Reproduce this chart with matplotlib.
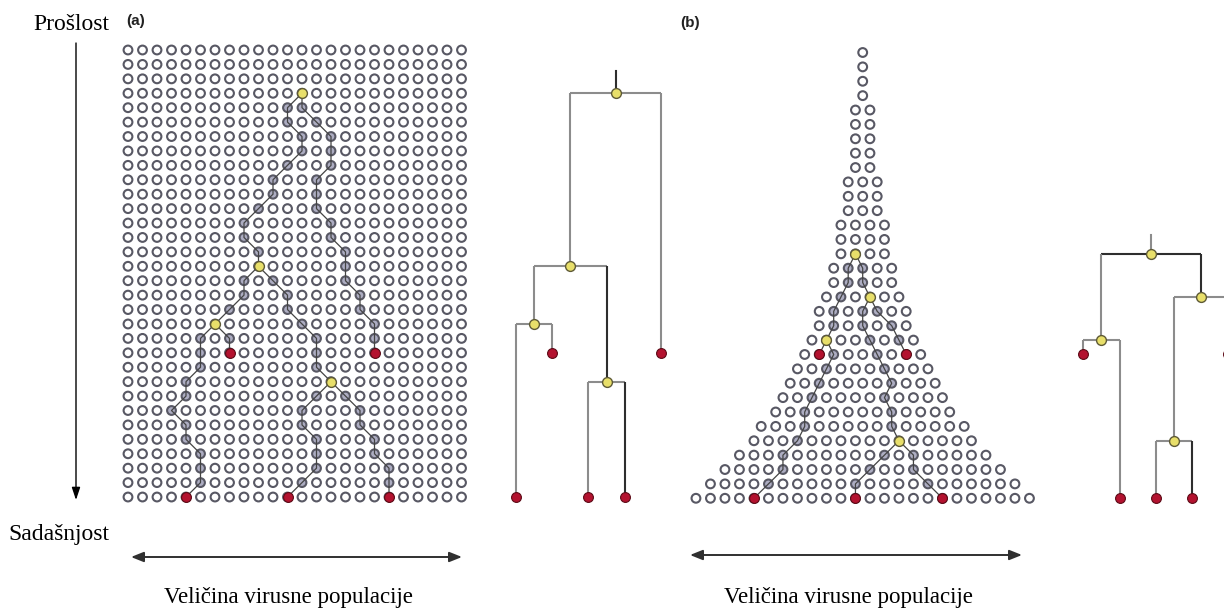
import numpy as np
import matplotlib.pyplot as plt

W, H = 1224, 610

# ---------------- panel (a): constant population, 24 columns x 32 generations
a_ncols = 24
a_nrows = 32

# coalescent events (yellow) and samples (red): row, column
a_node_names = ['Y1', 'Y2', 'Y3', 'Y4']
a_node_rows = [3, 15, 19, 23]
a_node_cols = [12, 9, 6, 14]
a_node_children = [('Y2', 'R2'), ('Y3', 'Y4'), ('R3', 'R1'), ('R4', 'R5')]
a_leaf_names = ['R1', 'R2', 'R3', 'R4', 'R5']
a_leaf_rows = [21, 21, 31, 31, 31]
a_leaf_cols = [7, 17, 4, 11, 18]
a_leaf_order = ['R3', 'R1', 'R4', 'R5', 'R2']

# lineages: (first row, column in each following generation)
a_y1_y2 = (3, [12, 11, 11, 12, 12, 11, 10, 10, 9, 8, 8, 9, 9])
a_y1_r2 = (3, [12, 12, 13, 14, 14, 14, 13, 13, 13, 14, 14, 15, 15, 15, 16, 16, 17, 17, 17])
a_y2_y3 = (15, [9, 8, 8, 7, 6])
a_y2_y4 = (15, [9, 10, 11, 11, 12, 13, 13, 13, 14])
a_y3_r1 = (19, [6, 7, 7])
a_y3_r3 = (19, [6, 5, 5, 5, 4, 4, 3, 4, 4, 5, 5, 5, 4])
a_y4_r4 = (23, [14, 13, 12, 12, 13, 13, 13, 12, 11])
a_y4_r5 = (23, [14, 15, 16, 16, 17, 17, 18, 18, 18])
a_paths = [a_y1_y2, a_y1_r2, a_y2_y3, a_y2_y4, a_y3_r1, a_y3_r3, a_y4_r4, a_y4_r5]

# ---------------- panel (b): growing population, circles per generation
b_row_sizes = [1, 1, 1, 1, 2, 2, 2, 2, 2, 3, 3, 3, 4, 4, 4, 5, 5, 6, 7, 7,
               8, 9, 10, 11, 12, 13, 15, 16, 18, 20, 22, 24]

b_node_names = ['Y1', 'Y2', 'Y3', 'Y4']
b_node_rows = [14, 20, 17, 27]
b_node_idx = [1, 1, 3, 10]
b_node_children = [('Y2', 'Y3'), ('R1', 'R2'), ('Y4', 'R5'), ('R3', 'R4')]
b_leaf_names = ['R1', 'R2', 'R3', 'R4', 'R5']
b_leaf_rows = [21, 31, 31, 31, 21]
b_leaf_idx = [1, 4, 11, 17, 7]
b_leaf_order = ['R1', 'R2', 'R3', 'R4', 'R5']

# lineages: (first row, index of circle within each following generation)
b_y1_y2 = (14, [1, 1, 1, 1, 1, 1, 1])
b_y2_r1 = (20, [1, 1])
b_y2_r2 = (20, [1, 2, 2, 2, 2, 2, 3, 3, 3, 4, 4, 4])
b_y1_y3 = (14, [1, 2, 2, 3])
b_y3_r5 = (17, [3, 4, 5, 6, 7])
b_y3_y4 = (17, [3, 3, 3, 4, 5, 6, 7, 7, 8, 9, 10])
b_y4_r3 = (27, [10, 10, 10, 10, 11])
b_y4_r4 = (27, [10, 12, 13, 15, 17])
b_paths = [b_y1_y2, b_y2_r1, b_y2_r2, b_y1_y3, b_y3_r5, b_y3_y4, b_y4_r3, b_y4_r4]

# styles
ring = '#585864'
lineage_fill = '#adadc2'
path_col = '#444444'
yellow, yellow_edge = '#e8df6a', '#5e5a36'
red, red_edge = '#b3122f', '#5c0a16'
tree_grey, tree_dark = '#8c8c8c', '#2e2e2e'
serif = ['Liberation Serif', 'DejaVu Serif']

fig = plt.figure(figsize=(W / 100, H / 100), dpi=100)


def overlay(x0, dx, y0, dy):
    """full-figure axes whose data units map onto pixels as x0 + dx*x, y0 + dy*y"""
    ax = fig.add_axes([0, 0, 1, 1])
    ax.set_xlim(-x0 / dx, (W - x0) / dx)
    ax.set_ylim((H - y0) / dy, -y0 / dy)
    ax.axis('off')
    ax.patch.set_alpha(0)
    return ax


def b_x(row, idx):
    return idx - (b_row_sizes[row] - 1) / 2


def draw_grid(ax, xs, ys, paths, xfun):
    on_path = set()
    for start, cols in paths:
        rows = np.arange(start, start + len(cols))
        px = [xfun(r, c) for r, c in zip(rows, cols)]
        ax.plot(px, rows, color=path_col, lw=0.9, zorder=4)
        on_path.update(zip(px, rows))
    fills = [lineage_fill if (x, y) in on_path else 'white' for x, y in zip(xs, ys)]
    ax.scatter(xs, ys, s=40, facecolors=fills, edgecolors=ring, linewidths=1.5, zorder=3)


def draw_nodes(ax, nx, ny, lx, ly):
    ax.scatter(nx, ny, s=50, facecolors=yellow, edgecolors=yellow_edge, linewidths=1.0, zorder=6)
    ax.scatter(lx, ly, s=50, facecolors=red, edgecolors=red_edge, linewidths=0.8, zorder=6)


def draw_tree(ax, names, rows, children, leaves, leaf_rows, order,
              dark_bars, dark_edges, stem_len, stem_dark):
    row = dict(zip(names, rows))
    row.update(zip(leaves, leaf_rows))
    kids = dict(zip(names, children))
    xpos = {n: i for i, n in enumerate(order)}

    def place(n):
        if n not in xpos:
            xpos[n] = np.mean([place(k) for k in kids[n]])
        return xpos[n]

    place(names[0])
    for n in names:
        xs = [xpos[k] for k in kids[n]]
        ax.plot([min(xs), max(xs)], [row[n], row[n]], lw=1.5, solid_capstyle='butt',
                color=tree_dark if n in dark_bars else tree_grey, zorder=2)
        for k in kids[n]:
            ax.plot([xpos[k], xpos[k]], [row[n], row[k]], lw=1.5, solid_capstyle='butt',
                    color=tree_dark if k in dark_edges else tree_grey, zorder=2)
    root = names[0]
    ax.plot([xpos[root]] * 2, [row[root] - stem_len, row[root]], lw=1.5,
            color=tree_dark if stem_dark else tree_grey, zorder=2)
    draw_nodes(ax, [xpos[n] for n in names], [row[n] for n in names],
               [xpos[n] for n in leaves], [row[n] for n in leaves])


# ---- panel (a) grid
ax_a = overlay(128, 14.5, 50, 14.42)
gx, gy = np.meshgrid(np.arange(a_ncols), np.arange(a_nrows))
draw_grid(ax_a, gx.ravel(), gy.ravel(), a_paths, lambda r, c: c)
draw_nodes(ax_a, a_node_cols, a_node_rows, a_leaf_cols, a_leaf_rows)

# ---- panel (a) tree
ax_ta = overlay(516, 36.2, 50, 14.42)
draw_tree(ax_ta, a_node_names, a_node_rows, a_node_children, a_leaf_names, a_leaf_rows,
          a_leaf_order, [], ['Y4', 'R5'], 1.55, True)

# ---- panel (b) triangle
ax_b = overlay(862.7, 14.5, 52.5, 14.38)
bx, by = [], []
for r, n in enumerate(b_row_sizes):
    for i in range(n):
        bx.append(b_x(r, i))
        by.append(r)
draw_grid(ax_b, bx, by, b_paths, b_x)
draw_nodes(ax_b, [b_x(r, i) for r, i in zip(b_node_rows, b_node_idx)], b_node_rows,
           [b_x(r, i) for r, i in zip(b_leaf_rows, b_leaf_idx)], b_leaf_rows)

# ---- panel (b) tree
ax_tb = overlay(1083.3, 36.2, 52.5, 14.38)
draw_tree(ax_tb, b_node_names, b_node_rows, b_node_children, b_leaf_names, b_leaf_rows,
          b_leaf_order, ['Y1'], ['Y3', 'R4'], 1.3, False)

# ---- labels and arrows (pixel coordinates)
ax_t = overlay(0, 1, 0, 1)
ax_t.text(33, 30, 'Prošlost', fontsize=17, family=serif, ha='left', va='baseline')
ax_t.text(8, 540, 'Sadašnjost', fontsize=17, family=serif, ha='left', va='baseline')
for cx in (288, 848):
    ax_t.text(cx, 603, 'Veličina virusne populacije', fontsize=16.5, family=serif,
              ha='center', va='baseline')
ax_t.text(136, 21, '(a)', fontsize=11, fontweight='bold', family=['Liberation Sans', 'DejaVu Sans'],
          ha='center', va='center', color='#222222')
ax_t.text(690, 23, '(b)', fontsize=11, fontweight='bold', family=['Liberation Sans', 'DejaVu Sans'],
          ha='center', va='center', color='#222222')

ax_t.annotate('', xy=(76, 500), xytext=(76, 43),
              arrowprops=dict(arrowstyle='-|>,head_length=0.75,head_width=0.25',
                              color='black', lw=1.0, shrinkA=0, shrinkB=0))
for x0, x1, y in ((131, 462, 557), (690, 1022, 555)):
    ax_t.annotate('', xy=(x1, y), xytext=(x0, y),
                  arrowprops=dict(arrowstyle='<|-|>,head_length=0.75,head_width=0.3',
                                  color='#303030', lw=1.4, shrinkA=0, shrinkB=0))

fig.savefig('out.png', dpi=100)
